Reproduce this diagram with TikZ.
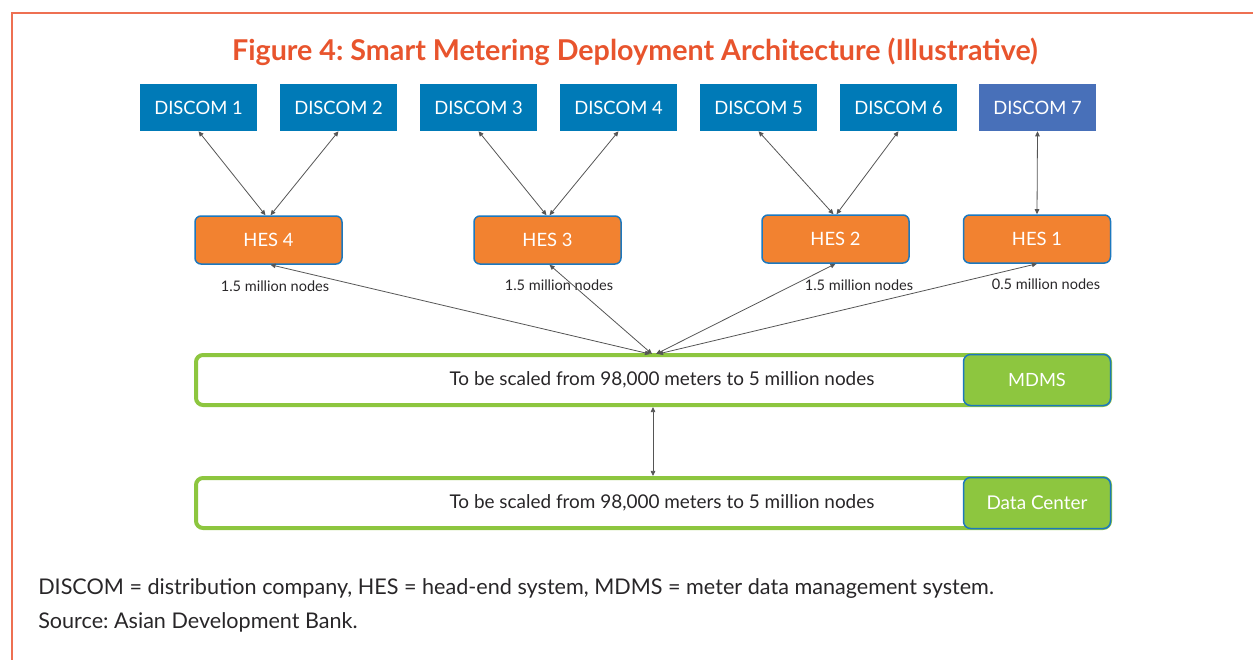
\documentclass[tikz,border=0pt]{standalone}
\usepackage{fontspec}
\setmainfont{Lato}
\usetikzlibrary{arrows.meta,positioning}

\definecolor{titlered}{RGB}{232,84,45}
\definecolor{framered}{RGB}{238,112,82}
\definecolor{discomblue}{RGB}{0,122,183}
\definecolor{discomviolet}{RGB}{72,112,185}
\definecolor{hesorange}{RGB}{242,130,48}
\definecolor{edgeblue}{RGB}{28,120,190}
\definecolor{mdmsgreen}{RGB}{141,198,63}
\definecolor{linkgray}{RGB}{85,85,85}
\definecolor{inkgray}{RGB}{40,38,40}

\newdimen\pxu \pxu=0.75pt

\begin{document}
\frenchspacing
\begin{tikzpicture}[
  x=0.75pt,y=-0.75pt,
  discom/.style={rectangle,fill=discomblue,text=white,minimum width=117\pxu,minimum height=47\pxu,inner sep=0pt,font=\fontsize{13.8}{16}\selectfont},
  hes/.style={rectangle,rounded corners=6\pxu,draw=edgeblue,line width=1.5\pxu,fill=hesorange,text=white,minimum width=147\pxu,minimum height=48\pxu,inner sep=0pt,font=\fontsize{13.8}{16}\selectfont},
  count/.style={text=inkgray,inner sep=0pt,font=\fontsize{10.9}{13}\selectfont},
  bar/.style={rectangle,rounded corners=7\pxu,draw=mdmsgreen,line width=4\pxu,fill=white,minimum width=914\pxu,minimum height=50\pxu,inner sep=0pt},
  tag/.style={rectangle,rounded corners=7\pxu,draw=edgeblue,line width=1.5\pxu,fill=mdmsgreen,text=white,minimum width=147\pxu,minimum height=51\pxu,inner sep=0pt,font=\fontsize{13.7}{16}\selectfont},
  scale text/.style={text=inkgray,inner sep=0pt,font=\fontsize{14.2}{17}\selectfont},
  link/.style={{Triangle[length=3.8pt,width=3.4pt]}-{Triangle[length=3.8pt,width=3.4pt]},draw=linkgray,line width=0.6pt},
  note/.style={anchor=west,text=inkgray,inner sep=0pt,font=\fontsize{16.2}{19}\selectfont},
]
\useasboundingbox (0,0) rectangle (1253,660);
\draw [framered,line width=2\pxu] (12,661) -- (12,13) -- (1254,13);

\node [text=titlered,font=\fontsize{21.5}{25}\bfseries] (title) at (635,52)
  {Figure 4: Smart Metering Deployment Architecture (Illustrative)};

% discoms
\node [discom] (d1) at (198.5,107.5) {DISCOM 1};
\node [discom] (d2) at (338.5,107.5) {DISCOM 2};
\node [discom] (d3) at (478.5,107.5) {DISCOM 3};
\node [discom] (d4) at (618.5,107.5) {DISCOM 4};
\node [discom] (d5) at (758.5,107.5) {DISCOM 5};
\node [discom] (d6) at (898.5,107.5) {DISCOM 6};
\node [discom,fill=discomviolet] (d7) at (1037.5,107.5) {DISCOM 7};

% head-end systems
\node [hes] (h4) at (268.5,240) {HES 4};
\node [hes] (h3) at (547.5,240) {HES 3};
\node [hes] (h2) at (835.5,239) {HES 2};
\node [hes] (h1) at (1037,239) {HES 1};

\node [count] (c4) at (275,286) {1.5 million nodes};
\node [count] (c3) at (559,285) {1.5 million nodes};
\node [count] (c2) at (859,285) {1.5 million nodes};
\node [count] (c1) at (1046,284) {0.5 million nodes};

% mdms and data center
\node [bar] (mdms) at (653,380) {};
\node [tag] (mdmstag) at (1037,380) {MDMS};
\node [scale text] (mdmstext) at (662,380) {To be scaled from 98,000 meters to 5 million nodes};

\node [bar] (dc) at (653,503) {};
\node [tag,font=\fontsize{14.2}{17}\selectfont] (dctag) at (1037,503) {Data Center};
\node [scale text] (dctext) at (662,503) {To be scaled from 98,000 meters to 5 million nodes};

\coordinate (m4) at (650,354);
\coordinate (m3) at (652,354);
\coordinate (m2) at (656,354);
\coordinate (m1) at (658,354);

\draw [link] (d1.south) -- ([xshift=-2.25pt]h4.north);
\draw [link] (d2.south) -- ([xshift=1.5pt]h4.north);
\draw [link] (d3.south) -- ([xshift=-0.75pt]h3.north);
\draw [link] (d4.south) -- ([xshift=1.5pt]h3.north);
\draw [link] (d5.south) -- ([xshift=-1.5pt]h2.north);
\draw [link] (d6.south) -- ([xshift=0.75pt]h2.north);
\draw [link] (d7.south) -- (h1.north);

\draw [link] ([xshift=1.5pt]h4.south) -- (m4);
\draw [link] ([xshift=1.5pt]h3.south) -- (m3);
\draw [link] (h2.south) -- (m2);
\draw [link] (h1.south) -- (m1);

\draw [link] (mdms.south) -- (dc.north);

% notes
\node [note] (abbr) at (38,589) {DISCOM = distribution company, HES = head-end system, MDMS = meter data management system.};
\node [note] (src) at (38,622) {Source: Asian Development Bank.};
\end{tikzpicture}
\end{document}
